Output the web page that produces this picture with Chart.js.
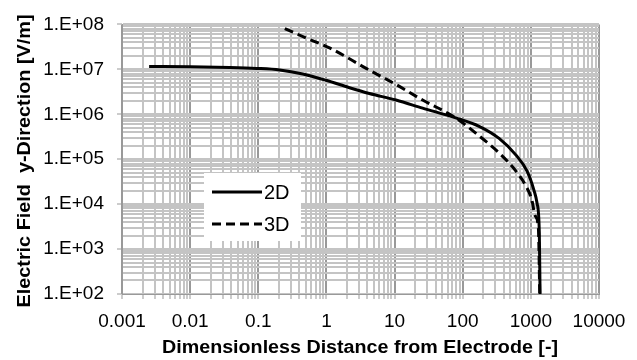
<!DOCTYPE html>
<html>
<head>
<meta charset="utf-8">
<script src="https://cdn.jsdelivr.net/npm/chart.js@4/dist/chart.umd.min.js"></script>
<style>
  html, body { margin: 0; padding: 0; background: #fff; }
  .chart__wrapper { position: relative; width: 637px; height: 360px; }
</style>
</head>
<body>
<div class="chart__wrapper"><canvas id="field-chart" width="637" height="360"></canvas></div>
<script>
  // values
  const x2D = [0.0025, 0.01, 0.038, 0.094, 0.206, 0.45, 0.99, 2.18, 4.27, 10.5, 25.8, 79, 174, 342, 601, 880, 1114, 1233, 1330, 1365];
  const y2D = [1.16e7, 1.14e7, 1.1e7, 1.05e7, 9.7e6, 7.9e6, 5.7e6, 3.9e6, 2.9e6, 2.07e6, 1.37e6, 8.3e5, 5.4e5, 2.9e5, 1.25e5, 5.4e4, 2.0e4, 1.05e4, 2.4e3, 1e2];
  const x3D = [0.245, 0.5, 1.11, 3.83, 10.5, 25.8, 79, 174, 342, 601, 850, 1040, 1150, 1290, 1350];
  const y3D = [8.1e7, 5.0e7, 3.0e7, 1.05e7, 4.6e6, 2.07e6, 8.3e5, 3.3e5, 1.38e5, 5.5e4, 2.5e4, 1.2e4, 5.6e3, 2.9e3, 1e2];

  const xTickValues = [0.001, 0.01, 0.1, 1, 10, 100, 1000, 10000];
  const xTickLabels = ["0.001", "0.01", "0.1", "1", "10", "100", "1000", "10000"];
  const yTickValues = [1e2, 1e3, 1e4, 1e5, 1e6, 1e7, 1e8];
  const yTickLabels = ["1.E+02", "1.E+03", "1.E+04", "1.E+05", "1.E+06", "1.E+07", "1.E+08"];

  const seriesNames = ["2D", "3D"];
  const xTitle = "Dimensionless Distance from Electrode [-]";
  const yTitle = "Electric Field  y-Direction [V/m]";

  const toPoints = (xs, ys) => xs.map((x, i) => ({ x, y: ys[i] }));

  // majors plus 2..9 minors in each decade
  function logTicks(majors) {
    const ticks = [];
    majors.forEach((m, i) => {
      ticks.push({ value: m, major: true });
      if (i < majors.length - 1) {
        for (let k = 2; k <= 9; k++) ticks.push({ value: m * k, major: false });
      }
    });
    return ticks;
  }

  function isMajor(value, majors) {
    return majors.some((m) => Math.abs(value / m - 1) < 1e-6);
  }

  const font = "'Liberation Sans', Arial, sans-serif";

  // text squeezed/stretched to a given width, like the original's wide bold titles
  function fitText(c, text, cx, cy, width, angle) {
    c.save();
    c.translate(cx, cy);
    c.rotate(angle);
    c.scale(width / c.measureText(text).width, 1);
    c.fillText(text, 0, 0);
    c.restore();
  }

  const overlay = {
    id: "overlay",
    afterDraw(chart) {
      const c = chart.ctx;
      c.save();
      c.fillStyle = "#000";
      c.font = "bold 18px " + font;
      c.textAlign = "center";
      c.textBaseline = "middle";
      fitText(c, xTitle, 360, 348, 396, 0);
      fitText(c, yTitle, 25, 161, 293, -Math.PI / 2);
      c.restore();

      // legend box
      c.save();
      c.fillStyle = "#fff";
      c.fillRect(204, 173, 97, 68);
      c.strokeStyle = "#000";
      c.lineWidth = 3;
      c.beginPath();
      c.moveTo(212, 192);
      c.lineTo(262, 192);
      c.stroke();
      c.setLineDash([9, 5]);
      c.beginPath();
      c.moveTo(212, 224);
      c.lineTo(262, 224);
      c.stroke();
      c.setLineDash([]);
      c.fillStyle = "#000";
      c.font = "20px " + font;
      c.textAlign = "left";
      c.textBaseline = "middle";
      c.fillText(seriesNames[0], 264, 193);
      c.fillText(seriesNames[1], 264, 225);
      c.restore();
    },
  };

  new Chart(document.getElementById("field-chart"), {
    type: "scatter",
    data: {
      datasets: [
        {
          label: seriesNames[0],
          data: toPoints(x2D, y2D),
          showLine: true,
          borderColor: "#000",
          borderWidth: 3,
          pointRadius: 0,
          cubicInterpolationMode: "monotone",
        },
        {
          label: seriesNames[1],
          data: toPoints(x3D, y3D),
          showLine: true,
          borderColor: "#000",
          borderWidth: 3,
          borderDash: [9, 5],
          pointRadius: 0,
          cubicInterpolationMode: "monotone",
        },
      ],
    },
    options: {
      responsive: false,
      animation: false,
      devicePixelRatio: 1,
      layout: { padding: { top: 15, right: 38, left: 0, bottom: 0 } },
      plugins: {
        legend: { display: false },
        tooltip: { enabled: false },
      },
      scales: {
        x: {
          type: "logarithmic",
          min: 0.001,
          max: 10000,
          afterFit: (scale) => { scale.height = 66; },
          afterBuildTicks: (scale) => { scale.ticks = logTicks(xTickValues); },
          border: { color: "#999", width: 1 },
          grid: {
            color: (ctx) => (ctx.tick && isMajor(ctx.tick.value, xTickValues) ? "#999" : "#c4c4c4"),
            lineWidth: 2,
            tickLength: 5,
            tickColor: "#999",
            tickWidth: 1,
          },
          ticks: {
            autoSkip: false,
            maxRotation: 0,
            padding: 11,
            color: "#000",
            font: { family: font, size: 19 },
            callback: (value) => {
              const i = xTickValues.findIndex((m) => Math.abs(value / m - 1) < 1e-6);
              return i >= 0 ? xTickLabels[i] : "";
            },
          },
        },
        y: {
          type: "logarithmic",
          min: 1e2,
          max: 1e8,
          afterFit: (scale) => { scale.width = 122; },
          afterBuildTicks: (scale) => { scale.ticks = logTicks(yTickValues); },
          border: { color: "#999", width: 1 },
          grid: {
            color: "#c4c4c4",
            lineWidth: 2,
            tickLength: 5,
            tickColor: (ctx) => (ctx.tick && isMajor(ctx.tick.value, yTickValues) ? "#999" : "rgba(0,0,0,0)"),
            tickWidth: 1,
          },
          ticks: {
            autoSkip: false,
            padding: 13,
            color: "#000",
            font: { family: font, size: 19 },
            callback: (value) => {
              const i = yTickValues.findIndex((m) => Math.abs(value / m - 1) < 1e-6);
              return i >= 0 ? yTickLabels[i] : "";
            },
          },
        },
      },
    },
    plugins: [overlay],
  });
</script>
</body>
</html>
